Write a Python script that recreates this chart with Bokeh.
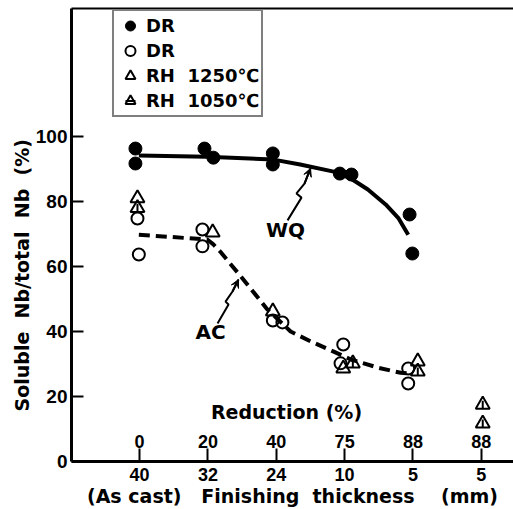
import math
from bokeh.plotting import figure
from bokeh.models import (Range1d, LinearAxis, FixedTicker, Legend, LegendItem,
                          Arrow, VeeHead, Title)
from bokeh.core.properties import value
from bokeh.embed import file_html
from bokeh.resources import INLINE

# ---- data ----
tick_pos = [0, 1, 2, 3, 4, 5]
reduction_labels = ["0", "20", "40", "75", "88", "88"]
thickness_labels = ["40", "32", "24", "10", "5", "5"]
y_ticks = [0, 20, 40, 60, 80, 100]

# filled circles: DR, water quenched
wq_x = [-0.06, -0.06, 0.95, 1.08, 1.95, 1.95, 2.93, 3.10, 3.95, 3.99]
wq_y = [96.3, 91.7, 96.3, 93.5, 94.8, 91.4, 88.6, 88.3, 76.0, 64.0]

# open circles: DR, air cooled
ac_x = [-0.03, -0.01, 0.92, 0.92, 1.95, 2.09, 2.98, 2.94, 3.93, 3.93]
ac_y = [74.8, 63.7, 71.4, 66.2, 43.4, 42.8, 36.0, 30.2, 28.6, 24.0]

# open triangles: RH 1250 C
rh1250_x = [-0.03, 1.07, 1.95, 2.98, 4.07]
rh1250_y = [81.0, 70.5, 46.2, 28.6, 30.8]

# hatched triangles: RH 1050 C
rh1050_x = [-0.03, 3.12, 4.07, 5.02, 5.02]
rh1050_y = [78.0, 30.2, 27.7, 17.5, 11.7]

# fitted curves
wq_curve_x = [-0.01, 0.98, 1.96, 2.35, 2.84, 3.09, 3.34, 3.60, 3.79, 3.93]
wq_curve_y = [94.2, 93.8, 92.9, 91.4, 89.2, 87.1, 83.7, 79.1, 74.8, 69.8]
ac_curve_x = [-0.01, 0.99, 1.08, 1.18, 1.48, 1.87, 2.21, 2.50, 2.84, 3.09, 3.50, 3.82, 4.00]
ac_curve_y = [69.8, 68.3, 66.8, 64.6, 57.0, 46.8, 40.0, 37.0, 33.8, 31.4, 28.8, 27.3, 27.0]

# annotation leader lines
wq_lead_x = [2.165, 2.369, 2.296, 2.413, 2.501]
wq_lead_y = [74.2, 81.2, 82.5, 85.5, 90.2]
ac_lead_x = [1.141, 1.302, 1.258, 1.360, 1.448]
ac_lead_y = [42.5, 48.3, 49.2, 52.3, 56.0]

BOLD = "DejaVu Sans"
NUM = "Liberation Sans"
NB = "\u00a0"

p = figure(width=513, height=509, output_backend="svg", toolbar_location=None,
           x_range=Range1d(-0.995, 5.47), y_range=Range1d(0, 139.4),
           min_border_left=71, min_border_right=0, min_border_top=8, min_border_bottom=48,
           x_axis_type=None, y_axis_type=None)
p.outline_line_color = None
p.background_fill_color = "white"
p.border_fill_color = "white"

# left axis
ya = LinearAxis(ticker=FixedTicker(ticks=y_ticks))
ya.axis_line_width = 3
ya.major_tick_in = 12
ya.major_tick_out = 0
ya.major_tick_line_width = 2
ya.minor_tick_line_color = None
ya.major_label_standoff = 4
ya.major_label_text_font = NUM
ya.major_label_text_font_style = "bold"
ya.major_label_text_font_size = "19px"
ya.major_label_text_color = "black"
p.add_layout(ya, "left")

# y-axis title, shifted up as in the reference
p.add_layout(Title(text=f"Soluble{NB} Nb/total{NB} Nb{NB} (%)", align="left", offset=50,
                   text_font=BOLD, text_font_style="bold", text_font_size="19px",
                   text_color="black", standoff=0), "left")

# bottom axis
xa = LinearAxis(ticker=FixedTicker(ticks=tick_pos))
xa.major_label_overrides = {i: t for i, t in zip(tick_pos, thickness_labels)}
xa.axis_line_width = 3
xa.major_tick_in = 13
xa.major_tick_out = 0
xa.major_tick_line_width = 2
xa.minor_tick_line_color = None
xa.major_label_standoff = 6
xa.major_label_text_font = NUM
xa.major_label_text_font_style = "bold"
xa.major_label_text_font_size = "18px"
xa.major_label_text_color = "black"
xa.axis_label = f"(As cast){NB}{NB} Finishing{NB} thickness{NB}{NB}{NB} (mm)"
xa.axis_label_standoff = 1
xa.axis_label_text_font = BOLD
xa.axis_label_text_font_style = "bold"
xa.axis_label_text_font_size = "19px"
xa.axis_label_text_color = "black"
p.add_layout(xa, "below")

# top frame line
ta = LinearAxis(ticker=FixedTicker(ticks=[]))
ta.axis_line_width = 2
ta.major_tick_line_color = None
ta.minor_tick_line_color = None
ta.major_label_text_font_size = "1px"
ta.major_label_standoff = 0
p.add_layout(ta, "above")

# curves
p.line(wq_curve_x, wq_curve_y, line_color="black", line_width=4, line_join="round")
p.line(ac_curve_x, ac_curve_y, line_color="black", line_width=4, line_dash="11 6")

# points
r_wq = p.scatter(wq_x, wq_y, marker="circle", size=13, fill_color="black", line_color="black")
r_ac = p.scatter(ac_x, ac_y, marker="circle", size=12, fill_color=None,
                 line_color="black", line_width=2)
r_t1 = p.scatter(rh1250_x, rh1250_y, marker="triangle", size=14, fill_color=None,
                 line_color="black", line_width=2)
r_t2 = p.scatter(rh1050_x, rh1050_y, marker="triangle", size=14, fill_color=None,
                 line_color="black", line_width=2)
r_t2b = p.scatter(rh1050_x, rh1050_y, marker="dash", size=8, angle=math.pi / 2,
                  line_color="black", line_width=2)

# leader lines and labels
p.line(wq_lead_x, wq_lead_y, line_color="black", line_width=2)
p.line(ac_lead_x, ac_lead_y, line_color="black", line_width=2)
p.add_layout(Arrow(end=VeeHead(size=8, fill_color="black", line_color="black"),
                   x_start=wq_lead_x[-2], y_start=wq_lead_y[-2],
                   x_end=wq_lead_x[-1], y_end=wq_lead_y[-1], line_width=2))
p.add_layout(Arrow(end=VeeHead(size=8, fill_color="black", line_color="black"),
                   x_start=ac_lead_x[-2], y_start=ac_lead_y[-2],
                   x_end=ac_lead_x[-1], y_end=ac_lead_y[-1], line_width=2))
p.text(x=[2.135], y=[71.1], text=["WQ"], text_font=value(BOLD), text_font_style="bold",
       text_font_size="20px", text_align="center", text_baseline="middle")
p.text(x=[1.038], y=[40.0], text=["AC"], text_font=value(BOLD), text_font_style="bold",
       text_font_size="20px", text_align="center", text_baseline="middle")

# reduction scale labels inside the plot
p.text(x=tick_pos, y=[6.2] * len(tick_pos), text=reduction_labels, text_font=value(NUM),
       text_font_style="bold", text_font_size="18px", text_align="center",
       text_baseline="middle")
p.text(x=[2.15], y=[15.1], text=["Reduction (%)"], text_font=value(BOLD),
       text_font_style="bold", text_font_size="19px", text_align="center",
       text_baseline="middle")

# legend
legend = Legend(items=[
    LegendItem(label="DR", renderers=[r_wq]),
    LegendItem(label="DR", renderers=[r_ac]),
    LegendItem(label="RH  1250℃", renderers=[r_t1]),
    LegendItem(label="RH  1050℃", renderers=[r_t2, r_t2b]),
], location=(41, 344))
legend.border_line_color = "black"
legend.border_line_width = 2
legend.background_fill_alpha = 1
legend.padding = 2
legend.spacing = 0
legend.margin = 0
legend.glyph_width = 28
legend.glyph_height = 25
legend.label_height = 25
legend.label_standoff = 2
legend.label_text_font = BOLD
legend.label_text_font_style = "bold"
legend.label_text_font_size = "18px"
legend.label_text_color = "black"
legend.label_text_baseline = "middle"
p.add_layout(legend, "center")

open("out.html", "w").write(file_html(p, INLINE))
